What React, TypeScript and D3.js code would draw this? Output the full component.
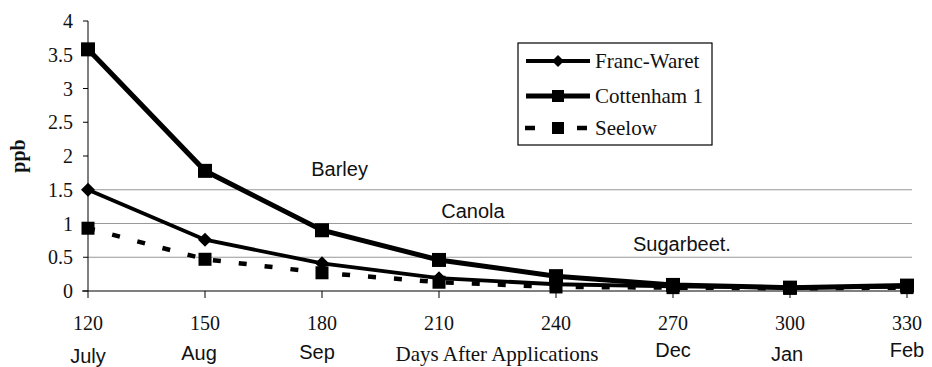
import React from "react";
import * as d3 from "d3";

const days = [120, 150, 180, 210, 240, 270, 300, 330];
const months = ["July", "Aug", "Sep", "", "", "Dec", "Jan", "Feb"];
const francWaret = [1.5, 0.76, 0.41, 0.19, 0.1, 0.07, 0.05, 0.06];
const cottenham = [3.58, 1.78, 0.9, 0.46, 0.22, 0.09, 0.05, 0.08];
const seelow = [0.93, 0.47, 0.27, 0.13, 0.06, 0.05, 0.04, 0.05];
const yTicks = [0, 0.5, 1, 1.5, 2, 2.5, 3, 3.5, 4];
const thresholds = [
  { v: 1.5, label: "Barley", day: 184.5, dy: -14 },
  { v: 1, label: "Canola", day: 218.7, dy: -6 },
  { v: 0.5, label: "Sugarbeet.", day: 272.3, dy: -6 },
];
const seriesNames = ["Franc-Waret", "Cottenham 1", "Seelow"];

export default function App() {
  const W = 932, H = 367;
  const x = d3.scaleLinear().domain([120, 330]).range([88, 907]);
  const y = d3.scaleLinear().domain([0, 4]).range([291, 21]);
  const line = d3.line<number>().x((_, i) => x(days[i])).y((d) => y(d));
  const sq = (cx: number, cy: number, s: number, k: string) => (
    <rect key={k} x={cx - s / 2} y={cy - s / 2} width={s} height={s} fill="#000" />
  );
  const dia = (cx: number, cy: number, s: number, k: string) => (
    <path key={k} d={`M${cx},${cy - s}L${cx + s},${cy}L${cx},${cy + s}L${cx - s},${cy}Z`} fill="#000" />
  );
  const serif = "'Liberation Serif', 'Times New Roman', serif";
  const sans = "'Liberation Sans', Arial, sans-serif";
  const monthDx = [0, -6, -5, 0, 0, 0, -3, 0];
  const monthY = [363, 360, 359, 0, 0, 357, 361, 357];
  return (
    <svg width={W} height={H} style={{ position: "absolute", left: 0, top: 0, background: "#fff" }}>
      {thresholds.map((t) => (
        <g key={t.label}>
          <line x1={x(120)} x2={912} y1={y(t.v)} y2={y(t.v)} stroke="#999" strokeWidth={1.2} />
          <text x={x(t.day)} y={y(t.v) + t.dy} fontFamily={sans} fontSize={20} textAnchor="middle" fill="#111">
            {t.label}
          </text>
        </g>
      ))}
      <line x1={x(120)} x2={x(120)} y1={y(4)} y2={y(0)} stroke="#000" strokeWidth={1} />
      <line x1={82} x2={912} y1={y(0)} y2={y(0)} stroke="#000" strokeWidth={1.2} />
      {yTicks.map((t) => (
        <g key={t}>
          <line x1={83} x2={88} y1={y(t)} y2={y(t)} stroke="#000" />
          <text x={73} y={y(t)} dy="0.35em" textAnchor="end" fontFamily={serif} fontSize={20} fill="#111">
            {t}
          </text>
        </g>
      ))}
      {days.map((d, i) => (
        <g key={d}>
          <line x1={x(d)} x2={x(d)} y1={y(0)} y2={y(0) + 7} stroke="#000" />
          <text x={x(d)} y={330} textAnchor="middle" fontFamily={serif} fontSize={20} fill="#111">
            {d}
          </text>
          {months[i] && (
            <text x={x(d) + monthDx[i]} y={monthY[i]} textAnchor="middle" fontFamily={sans} fontSize={20} fill="#111">
              {months[i]}
            </text>
          )}
        </g>
      ))}
      <text x={497} y={361} textAnchor="middle" fontFamily={serif} fontSize={21} fill="#111">
        Days After Applications
      </text>
      <text transform="translate(25,156) rotate(-90)" textAnchor="middle" fontFamily={serif} fontWeight="bold" fontSize={20} fill="#111">
        ppb
      </text>
      <path d={line(seelow) || ""} fill="none" stroke="#000" strokeWidth={4.5} strokeDasharray="8,18" strokeDashoffset={1} />
      <path d={line(francWaret) || ""} fill="none" stroke="#000" strokeWidth={3.8} />
      <path d={line(cottenham) || ""} fill="none" stroke="#000" strokeWidth={5} />
      {seelow.map((v, i) => sq(x(days[i]), y(v), 13, "s" + i))}
      {francWaret.map((v, i) => dia(x(days[i]), y(v), 7, "f" + i))}
      {cottenham.map((v, i) => sq(x(days[i]), y(v), 14, "c" + i))}
      <rect x={518} y={43} width={194} height={102} fill="#fff" stroke="#000" strokeWidth={1.2} />
      {seriesNames.map((n, i) => {
        const ly = [61, 96, 128][i];
        return (
          <g key={n}>
            {i === 2 ? (
              <line x1={525} x2={587} y1={ly} y2={ly} stroke="#000" strokeWidth={4.5} strokeDasharray="10,42" />
            ) : (
              <line x1={526} x2={590} y1={ly} y2={ly} stroke="#000" strokeWidth={i === 0 ? 3.8 : 5} />
            )}
            {i === 0 ? dia(558, ly, 6, "ld") : sq(558, ly, 12, "ls" + i)}
            <text x={595} y={ly} dy="0.35em" fontFamily={serif} fontSize={21} fill="#111">
              {n}
            </text>
          </g>
        );
      })}
    </svg>
  );
}
